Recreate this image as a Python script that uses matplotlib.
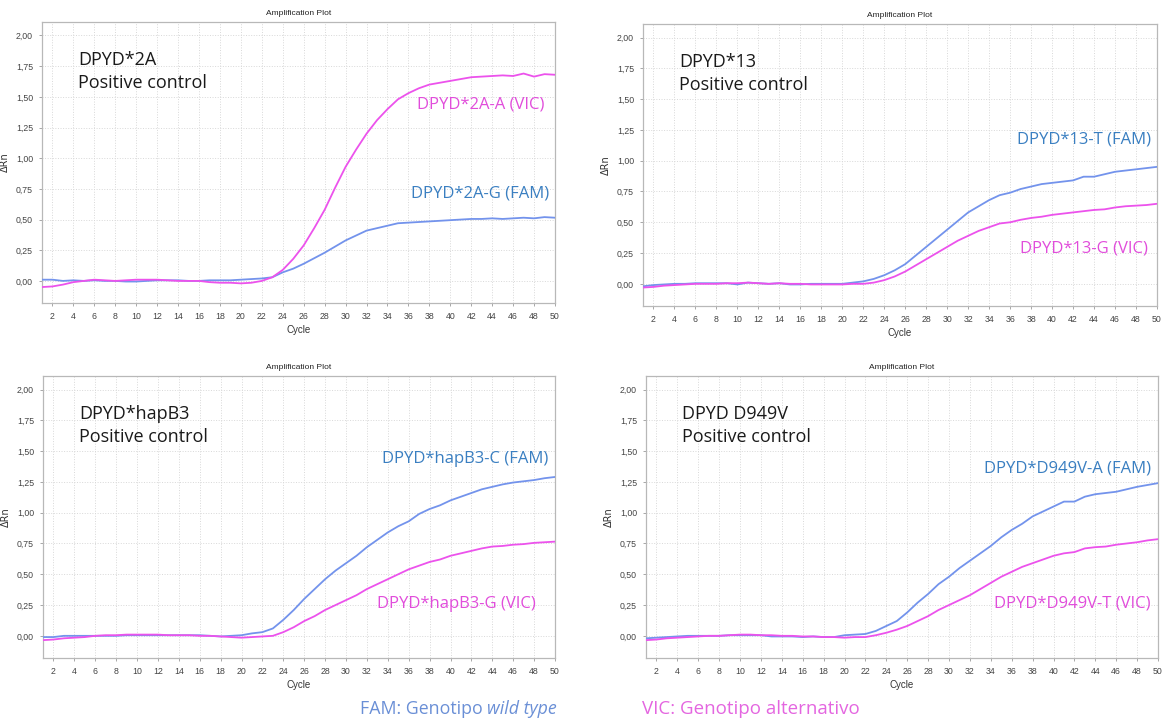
import matplotlib
matplotlib.use("Agg")
import matplotlib.pyplot as plt
import numpy as np

# cycles 1..50
cycles = np.arange(1, 51)

# panel 1 - DPYD*2A
fam_2a = [0.01, 0.01, 0.0, 0.005, 0.0, 0.005, 0.0, 0.0, -0.005, -0.005,
          0.0, 0.005, 0.005, 0.005, 0.0, 0.0, 0.005, 0.005, 0.005, 0.01,
          0.015, 0.02, 0.03, 0.07, 0.10, 0.14, 0.185, 0.23, 0.28, 0.33,
          0.37, 0.41, 0.43, 0.45, 0.47, 0.475, 0.48, 0.485, 0.49, 0.495,
          0.50, 0.505, 0.505, 0.51, 0.505, 0.51, 0.515, 0.51, 0.52, 0.515]
vic_2a = [-0.05, -0.045, -0.03, -0.01, 0.0, 0.01, 0.005, 0.0, 0.005, 0.01,
          0.01, 0.01, 0.005, 0.0, 0.0, 0.0, -0.01, -0.015, -0.015, -0.02,
          -0.015, 0.0, 0.03, 0.09, 0.18, 0.29, 0.43, 0.58, 0.76, 0.93,
          1.07, 1.20, 1.31, 1.40, 1.48, 1.53, 1.57, 1.60, 1.615, 1.63,
          1.645, 1.66, 1.665, 1.67, 1.675, 1.67, 1.69, 1.665, 1.685, 1.68]

# panel 2 - DPYD*13
fam_13 = [-0.02, -0.01, -0.005, 0.0, 0.0, 0.005, 0.005, 0.005, 0.005, -0.005,
          0.01, 0.005, 0.0, 0.005, -0.005, -0.005, 0.0, 0.0, 0.0, 0.0,
          0.01, 0.02, 0.04, 0.07, 0.11, 0.16, 0.23, 0.30, 0.37, 0.44,
          0.51, 0.58, 0.63, 0.68, 0.72, 0.74, 0.77, 0.79, 0.81, 0.82,
          0.83, 0.84, 0.87, 0.87, 0.89, 0.91, 0.92, 0.93, 0.94, 0.95]
vic_13 = [-0.03, -0.025, -0.015, -0.01, -0.005, 0.0, 0.0, 0.0, 0.005, 0.005,
          0.01, 0.005, 0.0, 0.005, 0.0, 0.0, -0.005, -0.005, -0.005, -0.005,
          0.0, 0.0, 0.01, 0.03, 0.06, 0.10, 0.15, 0.20, 0.25, 0.30,
          0.35, 0.39, 0.43, 0.46, 0.49, 0.50, 0.52, 0.535, 0.545, 0.56,
          0.57, 0.58, 0.59, 0.60, 0.605, 0.62, 0.63, 0.635, 0.64, 0.65]

# panel 3 - DPYD*hapB3
fam_hapb3 = [-0.01, -0.01, 0.0, 0.0, 0.0, 0.0, 0.0, 0.0, 0.005, 0.005,
             0.005, 0.005, 0.005, 0.005, 0.005, 0.005, 0.0, -0.005, 0.0, 0.005,
             0.02, 0.03, 0.06, 0.13, 0.21, 0.30, 0.38, 0.46, 0.53, 0.59,
             0.65, 0.72, 0.78, 0.84, 0.89, 0.93, 0.99, 1.03, 1.06, 1.10,
             1.13, 1.16, 1.19, 1.21, 1.23, 1.245, 1.255, 1.265, 1.28, 1.29]
vic_hapb3 = [-0.035, -0.03, -0.02, -0.015, -0.01, 0.0, 0.005, 0.005, 0.01, 0.01,
             0.01, 0.01, 0.005, 0.005, 0.005, 0.0, 0.0, -0.005, -0.01, -0.015,
             -0.01, -0.005, 0.0, 0.03, 0.07, 0.12, 0.16, 0.21, 0.25, 0.29,
             0.33, 0.38, 0.42, 0.46, 0.50, 0.54, 0.57, 0.60, 0.62, 0.65,
             0.67, 0.69, 0.71, 0.725, 0.73, 0.74, 0.745, 0.755, 0.76, 0.765]

# panel 4 - DPYD D949V
fam_d949v = [-0.02, -0.015, -0.01, -0.005, 0.0, 0.0, 0.0, 0.0, 0.005, 0.005,
             0.005, 0.005, -0.005, -0.005, -0.005, -0.01, -0.005, -0.01, -0.01, 0.005,
             0.01, 0.015, 0.04, 0.08, 0.12, 0.19, 0.27, 0.34, 0.42, 0.48,
             0.55, 0.61, 0.67, 0.73, 0.80, 0.86, 0.91, 0.97, 1.01, 1.05,
             1.09, 1.09, 1.13, 1.15, 1.16, 1.17, 1.19, 1.21, 1.225, 1.24]
vic_d949v = [-0.035, -0.03, -0.02, -0.015, -0.01, -0.005, 0.0, 0.0, 0.005, 0.01,
             0.01, 0.005, 0.005, 0.0, 0.0, -0.005, -0.005, -0.01, -0.01, -0.015,
             -0.01, -0.01, 0.005, 0.025, 0.05, 0.08, 0.12, 0.16, 0.21, 0.25,
             0.29, 0.33, 0.38, 0.43, 0.48, 0.52, 0.56, 0.59, 0.62, 0.65,
             0.67, 0.68, 0.71, 0.72, 0.725, 0.74, 0.75, 0.76, 0.775, 0.785]

titles = ["DPYD*2A\nPositive control", "DPYD*13\nPositive control",
          "DPYD*hapB3\nPositive control", "DPYD D949V\nPositive control"]
fam_labels = ["DPYD*2A-G (FAM)", "DPYD*13-T (FAM)", "DPYD*hapB3-C (FAM)", "DPYD*D949V-A (FAM)"]
vic_labels = ["DPYD*2A-A (VIC)", "DPYD*13-G (VIC)", "DPYD*hapB3-G (VIC)", "DPYD*D949V-T (VIC)"]
fam_data = [fam_2a, fam_13, fam_hapb3, fam_d949v]
vic_data = [vic_2a, vic_13, vic_hapb3, vic_d949v]

# label anchors (right edge, y) in data units
fam_pos = [(49.4, 0.715), (49.4, 1.17), (49.4, 1.44), (49.3, 1.36)]
vic_pos = [(49.0, 1.44), (49.1, 0.29), (48.2, 0.26), (49.3, 0.26)]

fam_line = "#7393ec"
vic_line = "#ec52ec"
fam_txt = "#3a7fc1"
vic_txt = "#e14ddb"

W, H = 1172, 721
fig = plt.figure(figsize=(W / 100, H / 100), dpi=100)

# axes boxes in pixels: left, right, top, bottom
boxes = [(42, 555, 22, 303), (643, 1157, 24, 306),
         (43, 555, 376, 658), (646, 1158, 376, 658)]

tick_font = "Liberation Sans"
ann_font = ["Open Sans", "DejaVu Sans"]

for i, (l, r, t, b) in enumerate(boxes):
    ax = fig.add_axes([l / W, 1 - b / H, (r - l) / W, (b - t) / H])
    ax.plot(cycles, fam_data[i], color=fam_line, lw=1.3, zorder=3)
    ax.plot(cycles, vic_data[i], color=vic_line, lw=1.3, zorder=3)
    ax.set_xlim(1, 50)
    ax.set_ylim(-0.18, 2.11)
    ax.set_xticks(np.arange(2, 51, 2))
    ax.set_yticks(np.arange(0, 2.01, 0.25))
    ax.set_yticklabels([f"{v:.2f}".replace(".", ",") for v in np.arange(0, 2.01, 0.25)])
    ax.tick_params(labelsize=6.3, colors="#999999", labelcolor="#444444",
                   length=2.5, width=0.6, pad=4)
    for lab in ax.get_xticklabels() + ax.get_yticklabels():
        lab.set_fontfamily(tick_font)
    ax.grid(True, color="#d8d8d8", linestyle=":", linewidth=0.7)
    for s in ax.spines.values():
        s.set_color("#b8b8b8")
        s.set_linewidth(0.9)
    ax.set_title("Amplification Plot", fontsize=6, family=tick_font,
                 color="#222222", pad=5)
    ax.set_xlabel("Cycle", fontsize=7, family=tick_font, color="#333333", labelpad=3)
    ax.set_ylabel("ΔRn", fontsize=7, family="DejaVu Sans", color="#333333", labelpad=4)

    ax.text(0.07, 0.897, titles[i], transform=ax.transAxes, ha="left", va="top",
            fontsize=13, family=ann_font, color="#1a1a1a", linespacing=1.35)
    ax.text(fam_pos[i][0], fam_pos[i][1], fam_labels[i], ha="right", va="center",
            fontsize=12, family=ann_font, color=fam_txt)
    ax.text(vic_pos[i][0], vic_pos[i][1], vic_labels[i], ha="right", va="center",
            fontsize=12, family=ann_font, color=vic_txt)

# bottom legend
leg_y = 1 - 709 / H
t1 = fig.text(360 / W, leg_y, "FAM: Genotipo ", ha="left", va="center",
              fontsize=12.8, family=ann_font, color="#6a8fd6")
fig.canvas.draw()
bb = t1.get_window_extent()
fig.text(bb.x1 / W, leg_y, "wild type", ha="left", va="center",
         fontsize=12.8, family=ann_font, style="italic", color="#6a8fd6")
fig.text(642 / W, leg_y, "VIC: Genotipo alternativo", ha="left", va="center",
         fontsize=13.5, family=ann_font, color="#e466e0")

fig.savefig("out.png", dpi=100)
